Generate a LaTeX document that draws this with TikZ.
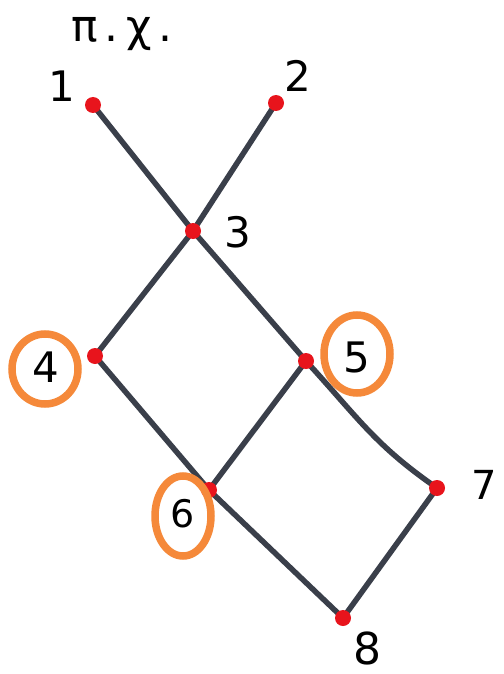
\documentclass[tikz,border=0pt]{standalone}
\usepackage{fontspec}
\setmainfont{DejaVu Sans}
\begin{document}
\begin{tikzpicture}[x=1pt,y=-1pt,
  vtx/.style={circle,fill=dotred,inner sep=0pt,minimum size=16pt},
  edge/.style={draw=linegray,line width=5.5pt,line cap=round},
  lbl/.style={font=\fontsize{42}{42}\selectfont,text=black,inner sep=0pt},
  ring/.style={draw=ringorange,line width=7.5pt}]
\definecolor{dotred}{HTML}{E8141C}
\definecolor{linegray}{HTML}{3A3F4A}
\definecolor{ringorange}{HTML}{F5893A}
\useasboundingbox[fill=white] (0,0) rectangle (503,674);
\coordinate (c1) at (93,105);
\coordinate (c2) at (276,103);
\coordinate (c3) at (193,231);
\coordinate (c4) at (95,356);
\coordinate (c5) at (306,361);
\coordinate (c6) at (209,490);
\coordinate (c7) at (437,488);
\coordinate (c8) at (343,618);
\draw[edge] (c1) -- (c3);
\draw[edge] (c2) -- (c3);
\draw[edge] (c3) -- (c4);
\draw[edge] (c3) -- (c5);
\draw[edge] (c4) -- (c6);
\draw[edge] (c5) -- (c6);
\draw[edge] (c5) .. controls (360,420) and (375,445) .. (c7);
\draw[edge] (c6) -- (c8);
\draw[edge] (c7) -- (c8);
\foreach \n in {1,...,8} \node[vtx] (v\n) at (c\n) {};
\node[lbl,font=\fontsize{44}{44}\selectfont] (t) at (122,34) {π\,.\,χ\,.};
\node[lbl] (l1) at (62,86) {1};
\node[lbl] (l2) at (298,76) {2};
\node[lbl] (l3) at (238,232) {3};
\node[lbl] (l4) at (46,367) {4};
\node[lbl] (l5) at (357,357) {5};
\node[lbl,font=\fontsize{38}{38}\selectfont] (l6) at (183,514) {6};
\node[lbl,font=\fontsize{40}{40}\selectfont] (l7) at (484,485) {7};
\node[lbl,font=\fontsize{44}{44}\selectfont] (l8) at (367,648) {8};
\draw[ring] (45,369) ellipse [x radius=33, y radius=35];
\draw[ring] (357,354) ellipse [x radius=33, y radius=39];
\draw[ring] (183,516) ellipse [x radius=28, y radius=40];
\end{tikzpicture}
\end{document}
